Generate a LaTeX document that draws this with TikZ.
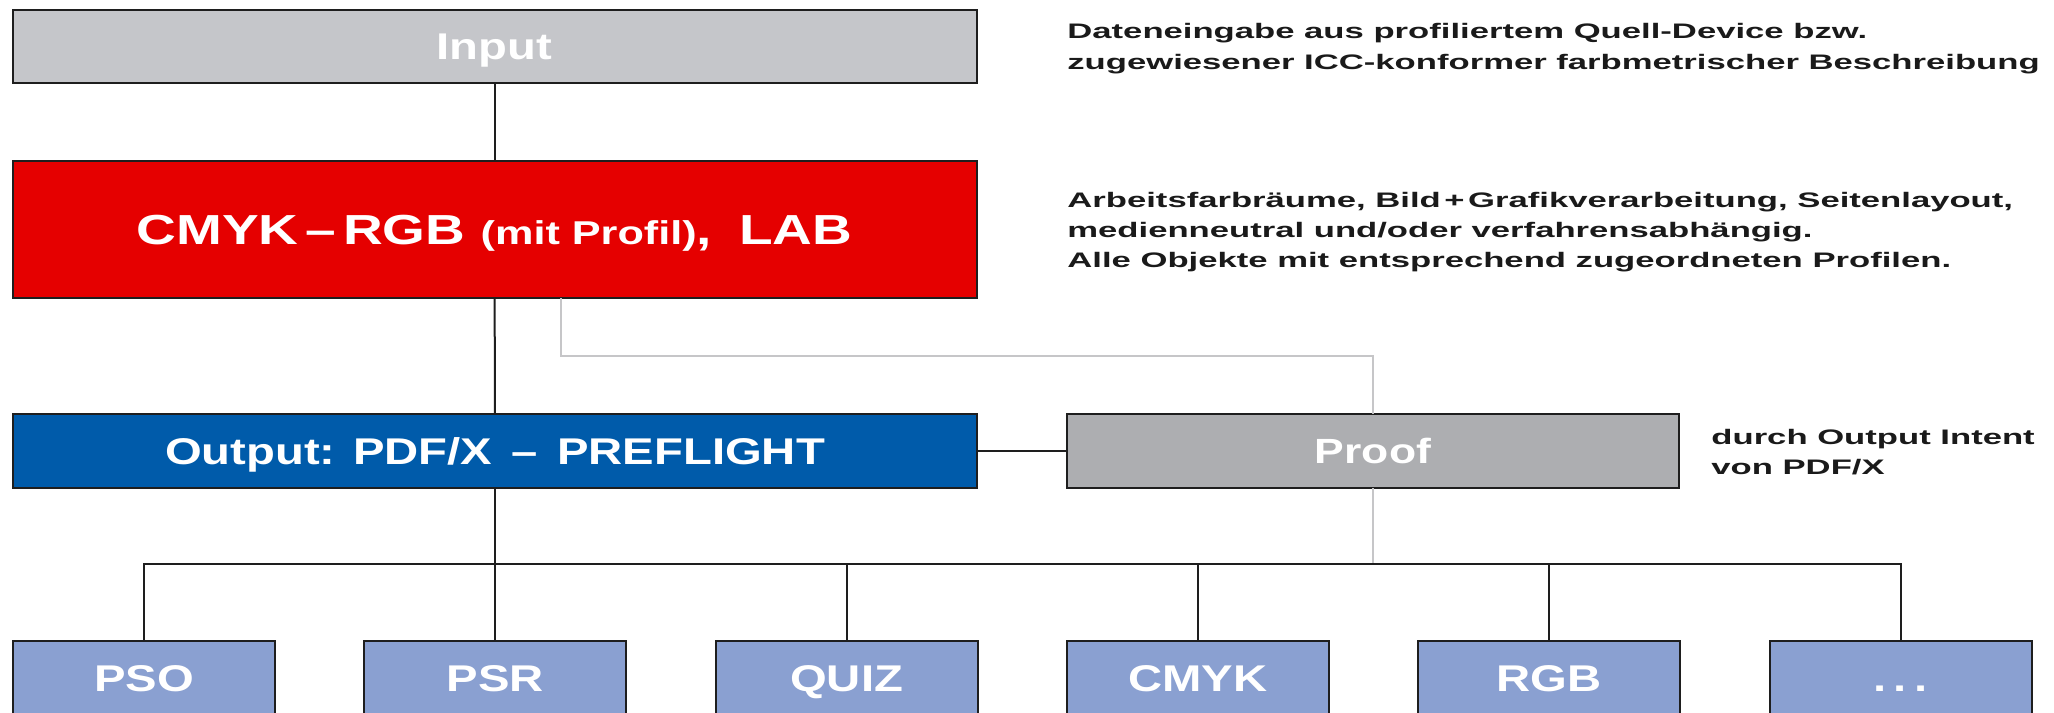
\documentclass[tikz,border=0pt]{standalone}
\usepackage{fontspec}
\setmainfont{Liberation Sans}
\newfontfamily\boxfont[FakeStretch=1.27]{Liberation Sans Bold}
\newfontfamily\mainfont[FakeStretch=1.31]{Liberation Sans Bold}
\newfontfamily\notefont[FakeStretch=1.65]{Liberation Sans Bold}
\definecolor{inputgray}{HTML}{C5C6CA}
\definecolor{mainred}{HTML}{E50000}
\definecolor{outblue}{HTML}{005BAA}
\definecolor{proofgray}{HTML}{ADAEB1}
\definecolor{leafblue}{HTML}{8AA0D1}
\definecolor{linecol}{HTML}{1E1E1E}
\definecolor{lightline}{HTML}{C6C6C8}
\definecolor{notecol}{HTML}{1A1A1A}
\begin{document}
\begin{tikzpicture}[x=0.5pt,y=-0.5pt,
  box/.style={draw=linecol, line width=1pt, inner sep=0pt, outer sep=0pt, text=white},
  wide/.style={box, minimum width=482pt, minimum height=37pt, text height=13.3pt, text depth=0pt, font=\boxfont\fontsize{18.6}{22}\selectfont},
  leaf/.style={box, fill=leafblue, minimum width=131pt, minimum height=37.5pt, text height=13.3pt, text depth=0pt, font=\boxfont\fontsize{18.6}{22}\selectfont},
  note/.style={anchor=base west, inner sep=0pt, text=notecol, font=\notefont\fontsize{10.5}{15}\selectfont},
  conn/.style={draw=linecol, line width=1pt},
  lightconn/.style={draw=lightline, line width=1pt}]
\useasboundingbox (0,0) rectangle (2054,712);
\clip (0,0) rectangle (2054,712);

% boxes
\node[wide, fill=inputgray, minimum height=36.5pt] (input) at (494.5,46.5) {Input};
\node[wide, fill=mainred, minimum height=68.5pt, text height=15pt, font=\mainfont\fontsize{21}{25}\selectfont] (main) at (494.5,229.5)
  {CMYK\,–\,RGB {\fontsize{16.5}{20}\selectfont(mit Profil)},\hspace{6pt} LAB};
\node[wide, fill=outblue] (output) at (495,451) {Output: PDF/X \,–\, PREFLIGHT};
\node[wide, fill=proofgray, minimum width=306pt, text height=12.5pt, font=\boxfont\fontsize{17.5}{21}\selectfont] (proof) at (1373,451) {Proof};

\node[leaf] (pso)  at (144,678.5)    {PSO};
\node[leaf] (psr)  at (495.3,678.5)  {PSR};
\node[leaf] (quiz) at (846.6,678.5)  {QUIZ};
\node[leaf] (cmyk) at (1197.9,678.5) {CMYK};
\node[leaf] (rgb)  at (1549.2,678.5) {RGB};
\node[leaf] (more) at (1900.5,678.5) {.\kern3.5pt.\kern3.5pt.};

% coordinates
\coordinate (g1) at (561,356);
\coordinate (bus) at (495,564);

% connectors
\draw[conn] (input) -- (main);
\draw[conn] (main) -- (output);
\draw[conn] (output.east) -- (proof.west);
\draw[lightconn] (g1 |- main.south) -- (g1) -| (proof.north);
\draw[lightconn] (proof.south) -- (proof.south |- bus);
\draw[conn] (output.south) -- (bus);
\draw[conn] (pso.north) -- (pso.north |- bus) -- (more.north |- bus) -- (more.north);
\draw[conn] (psr.north) -- (psr.north |- bus);
\draw[conn] (quiz.north) -- (quiz.north |- bus);
\draw[conn] (cmyk.north) -- (cmyk.north |- bus);
\draw[conn] (rgb.north) -- (rgb.north |- bus);

% notes
\node[note] (n1a) at (1067,39) {Dateneingabe aus profiliertem Quell-Device bzw.};
\node[note] (n1b) at (1067,69) {zugewiesener ICC-konformer farbmetrischer Beschreibung};
\node[note] (n2a) at (1067,207) {Arbeitsfarbräume, Bild\,+\,Grafikverarbeitung, Seitenlayout,};
\node[note] (n2b) at (1067,237) {medienneutral und/oder verfahrensabhängig.};
\node[note] (n2c) at (1067,267) {Alle Objekte mit entsprechend zugeordneten Profilen.};
\node[note] (n3a) at (1711,444) {durch Output Intent};
\node[note] (n3b) at (1711,474) {von PDF/X};
\end{tikzpicture}
\end{document}
